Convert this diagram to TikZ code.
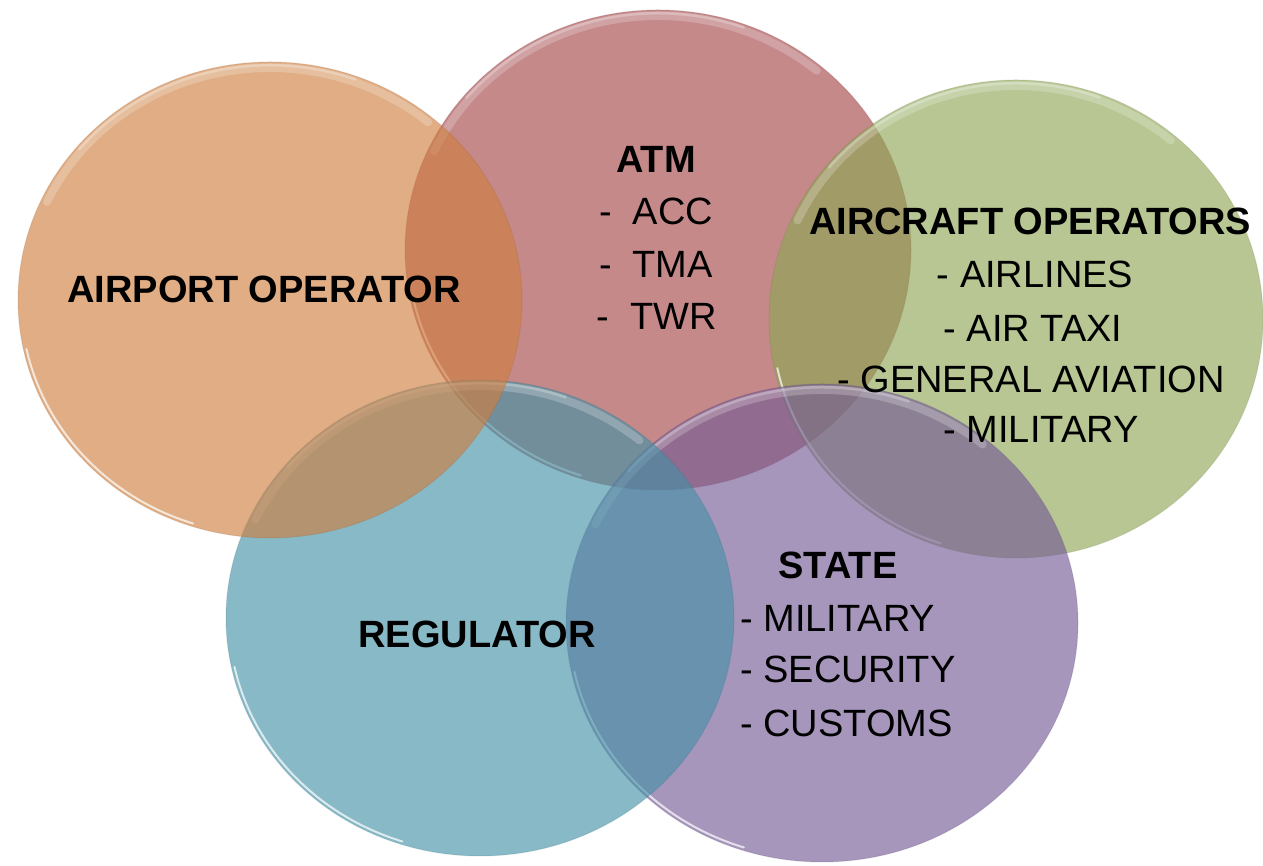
\documentclass[tikz,border=0pt]{standalone}
\usepackage{fontspec}
\setmainfont{Liberation Sans}
\definecolor{cAirport}{RGB}{207,126,63}
\definecolor{cAtm}{RGB}{164,69,71}
\definecolor{cAircraft}{RGB}{141,166,84}
\definecolor{cReg}{RGB}{68,145,166}
\definecolor{cState}{RGB}{115,90,149}
\tikzset{
  head/.style={font=\fontsize{38}{44}\selectfont\bfseries, anchor=base, inner sep=0pt, text=black},
  item/.style={font=\fontsize{38}{44}\selectfont, anchor=base, inner sep=0pt, text=black},
  itemleft/.style={item, anchor=base west},
}
\newcommand{\vennset}[6]{%
  \coordinate (#1) at (#2,#3);
  \pgfmathsetmacro\vrxa{#4-6}\pgfmathsetmacro\vrya{#5-6}%
  \pgfmathsetmacro\vrxb{#4-3}\pgfmathsetmacro\vryb{#5-3}%
  \fill[#6, fill opacity=0.63] (#1) ellipse[x radius=#4, y radius=#5];
  \draw[#6!70!black, draw opacity=0.15, line width=1] (#1) ellipse[x radius=#4, y radius=#5];
  \draw[white, draw opacity=0.22, line width=8, line cap=round] (#1) ++(155:\vrxa\space and \vrya) arc[start angle=155, end angle=50, x radius=\vrxa, y radius=\vrya];
  \draw[white, draw opacity=0.25, line width=3, line cap=round] (#1) ++(140:\vrxb\space and \vryb) arc[start angle=140, end angle=70, x radius=\vrxb, y radius=\vryb];
  \draw[white, draw opacity=0.7, line width=2, line cap=round] (#1) ++(192:\vrxb\space and \vryb) arc[start angle=192, end angle=252, x radius=\vrxb, y radius=\vryb];
}
\begin{document}
\begin{tikzpicture}[x=1pt,y=1pt]
\useasboundingbox (0,0) rectangle (1263,866);
\fill[white] (0,0) rectangle (1263,866);
\vennset{atm}{658}{616}{253}{240}{cAtm}
\vennset{acft}{1016}{547}{247}{239}{cAircraft}
\vennset{state}{822}{243}{256}{239}{cState}
\vennset{reg}{480}{248}{254}{238}{cReg}
\vennset{apt}{270}{566}{252}{238}{cAirport}
\node[head] (aptT) at (264,563) {AIRPORT OPERATOR};
\node[head] (atmT) at (656,693) {ATM};
\node[item] (atm1) at (656,641) {-~~ACC};
\node[item] (atm2) at (656,588) {-~~TMA};
\node[item] (atm3) at (657,536) {-~~TWR};
\node[head] (acT) at (1030,631) {AIRCRAFT OPERATORS};
\node[item] (ac1) at (1035,578) {- AIRLINES};
\node[item] (ac2) at (1033,524) {- AIR TAXI};
\node[item] (ac3) at (1031,473) {- GENERAL AVIATION};
\node[item] (ac4) at (1041,423) {- MILITARY};
\node[head] (stT) at (838,287) {STATE};
\node[itemleft] (st1) at (740,234) {- MILITARY};
\node[itemleft] (st2) at (740,183) {- SECURITY};
\node[itemleft] (st3) at (740,129) {- CUSTOMS};
\node[head] (regT) at (477,218) {REGULATOR};
\end{tikzpicture}
\end{document}
